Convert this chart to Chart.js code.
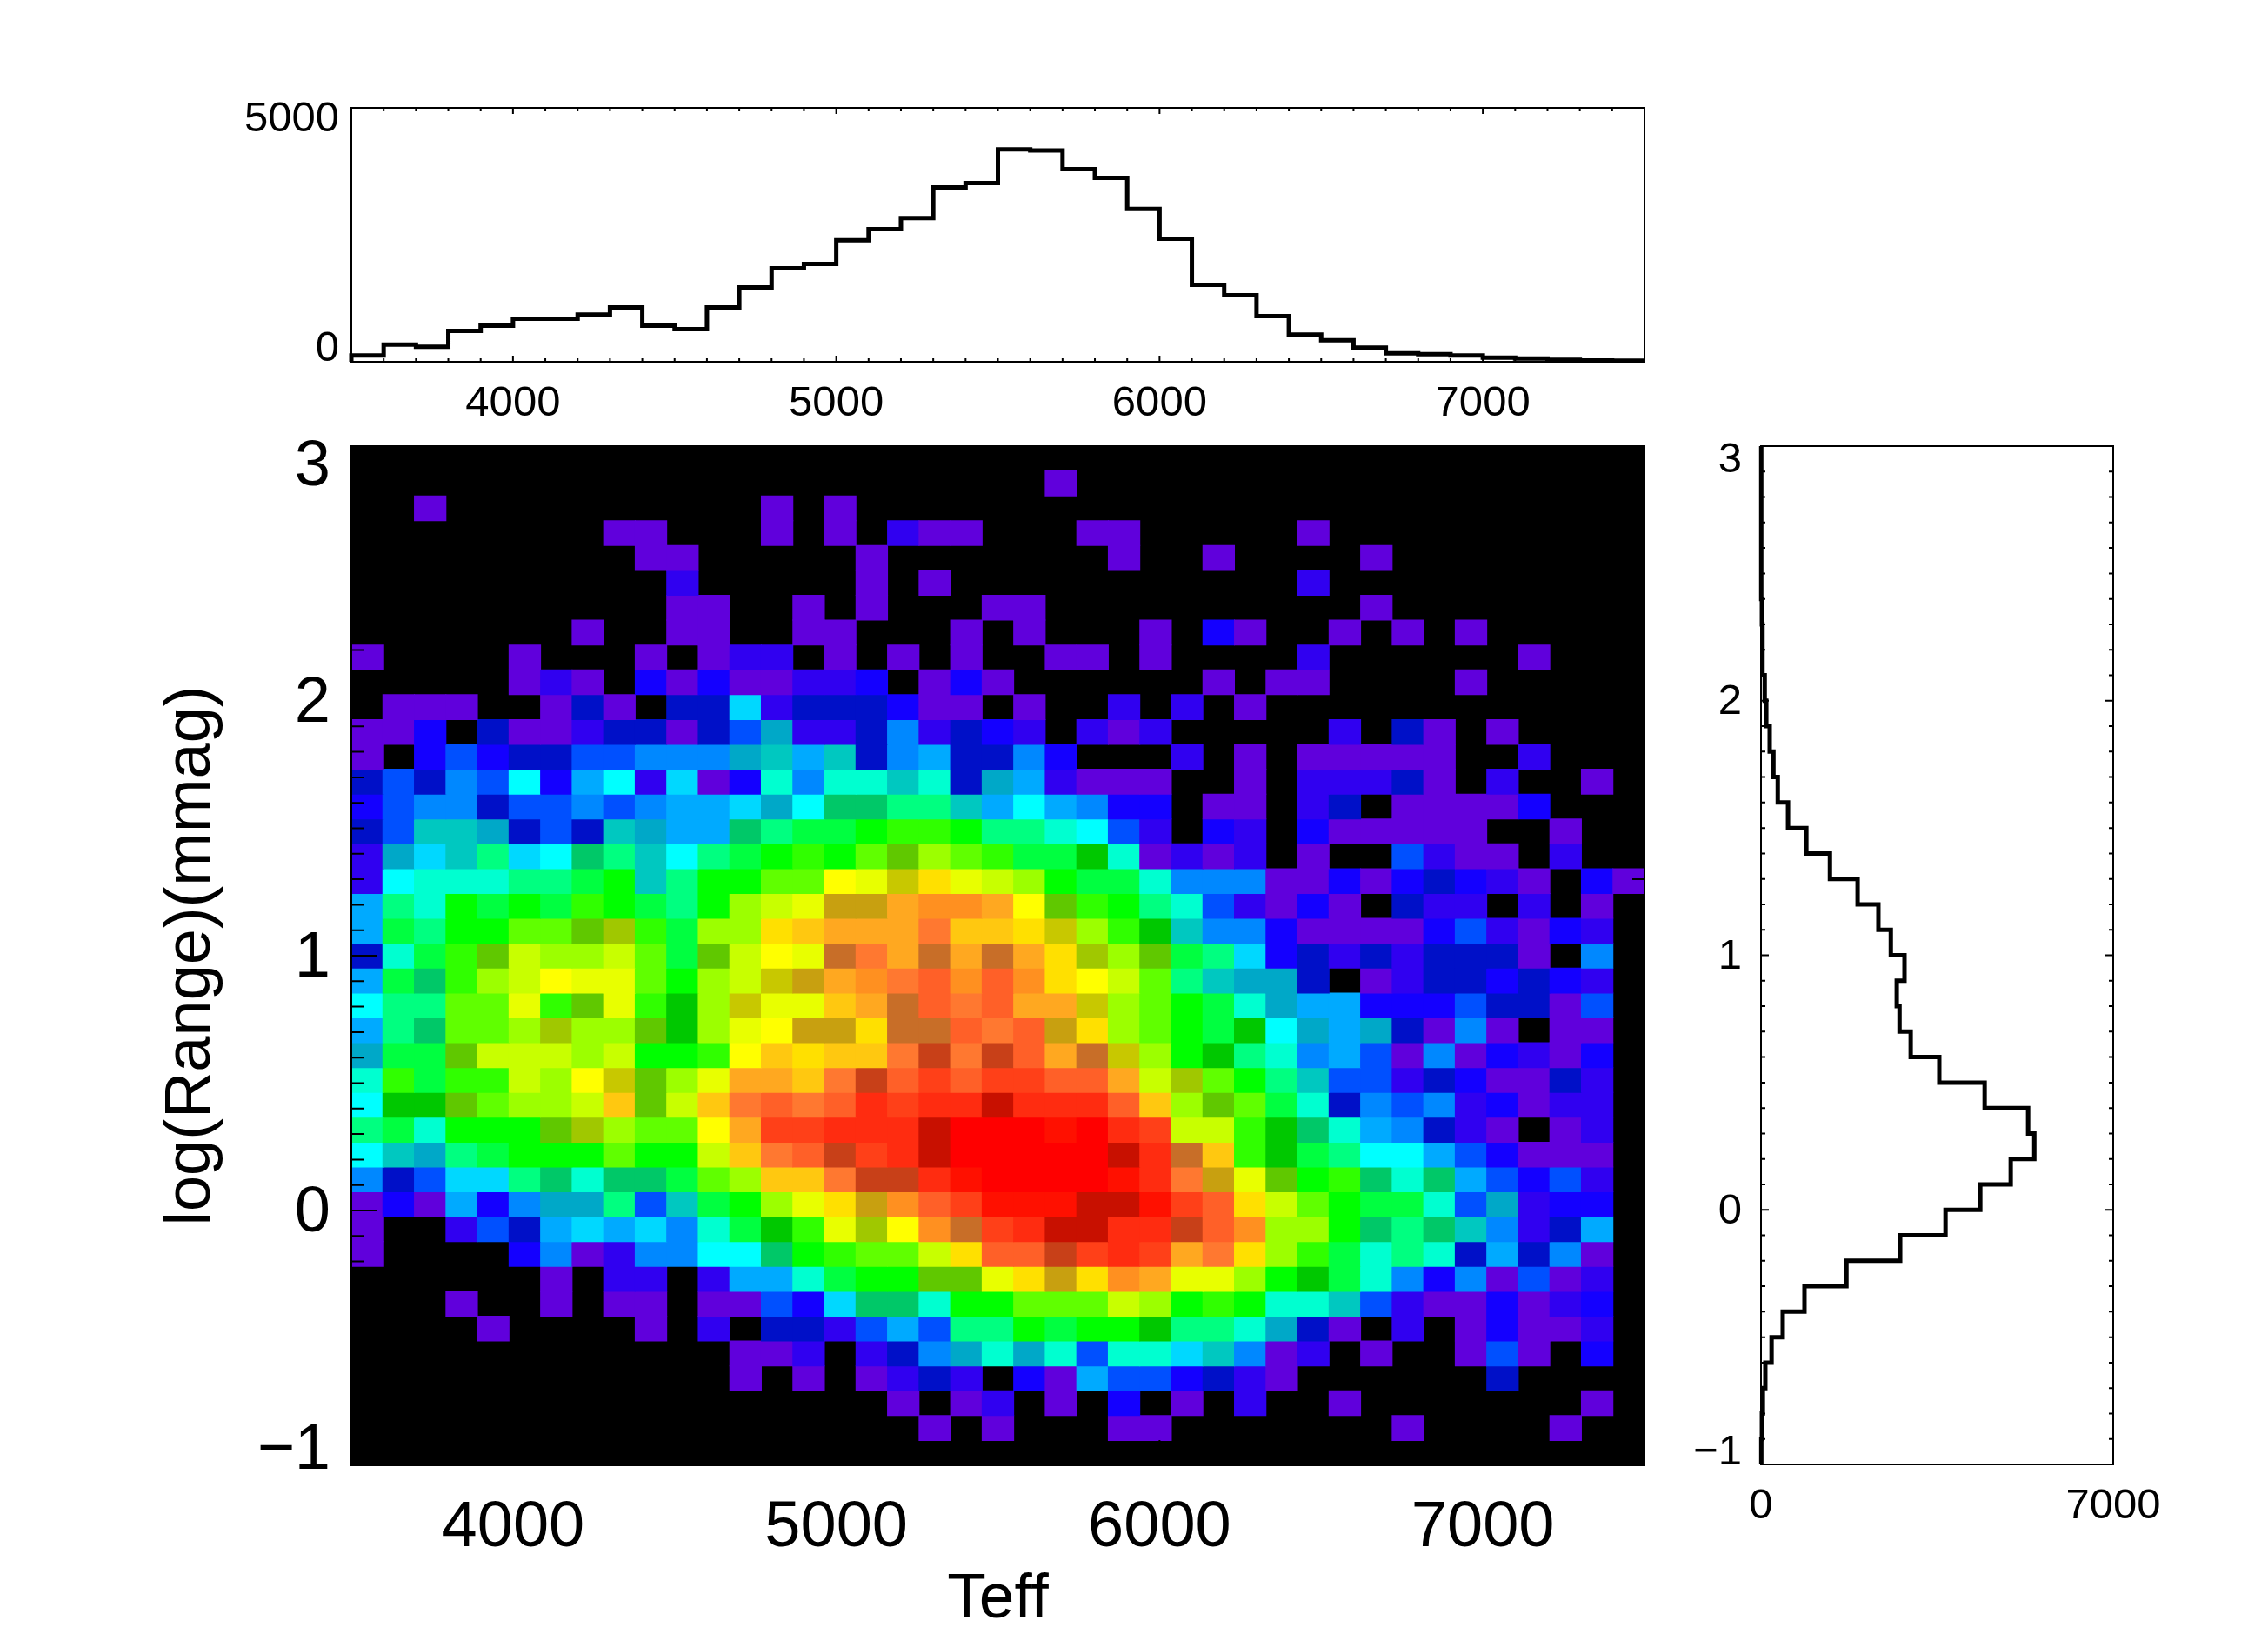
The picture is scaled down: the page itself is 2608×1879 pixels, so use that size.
<!DOCTYPE html>
<html>
<head>
<meta charset="utf-8">
<style>
html,body{margin:0;padding:0;background:#fff;width:2608px;height:1879px;overflow:hidden}
canvas{position:absolute;display:block}
</style>
<script src="https://cdn.jsdelivr.net/npm/chart.js@4"></script>
</head>
<body>
<canvas id="top" width="1960" height="500" style="left:0;top:0"></canvas>
<canvas id="main" width="1960" height="1379" style="left:0;top:500px"></canvas>
<canvas id="side" width="708" height="1379" style="left:1900px;top:500px"></canvas>
<script>
// ---------- data ----------
const teffLabels = [4000, 5000, 6000, 7000];
const teffEdgeStart = 3500, teffEnd = 7500, teffStep = 100;
const rangeLabels = [0, 1, 2];
const rangeStart = -1, rangeEnd = 3;

// top histogram: star counts in 100 K bins from 3500 K
const teffCounts = [126,337,297,606,709,846,846,931,1069,709,640,1069,1463,1840,1926,2394,2611,2829,3434,3520,
  4183,4160,3794,3623,3011,2423,1514,1309,897,537,423,280,166,149,126,80,63,40,25,20];

// side histogram: star counts in 0.1 dex bins, from log(Range)=3 downwards
const rangeCounts = [5,5,5,5,5,5,18,30,30,74,105,173,247,333,537,901,1370,1920,2333,2580,
  2852,2698,2753,2975,3543,4445,5309,5432,4963,4358,3667,2766,1698,864,432,210,86,37,18,6];

// colour-table level of each density cell, 41 rows from top, 41 columns from left
const densityRows = [
[0,0,0,0,0,0,0,0,0,0, 0,0,0,0,0,0,0,0,0,0, 0,0,0,0,0,0,0,0,0,0, 0,0,0,0,0,0,0,0,0,0, 0],
[0,0,0,0,0,0,0,0,0,0, 0,0,0,0,0,0,0,0,0,0, 0,0,1,0,0,0,0,0,0,0, 0,0,0,0,0,0,0,0,0,0, 0],
[0,0,1,0,0,0,0,0,0,0, 0,0,0,1,0,1,0,0,0,0, 0,0,0,0,0,0,0,0,0,0, 0,0,0,0,0,0,0,0,0,0, 0],
[0,0,0,0,0,0,0,0,1,1, 0,0,0,1,0,1,0,2,1,1, 0,0,0,1,1,0,0,0,0,0, 1,0,0,0,0,0,0,0,0,0, 0],
[0,0,0,0,0,0,0,0,0,1, 1,0,0,0,0,0,1,0,0,0, 0,0,0,0,1,0,0,1,0,0, 0,0,1,0,0,0,0,0,0,0, 0],
[0,0,0,0,0,0,0,0,0,0, 2,0,0,0,0,0,1,0,1,0, 0,0,0,0,0,0,0,0,0,0, 2,0,0,0,0,0,0,0,0,0, 0],
[0,0,0,0,0,0,0,0,0,0, 1,1,0,0,1,0,1,0,0,0, 1,1,0,0,0,0,0,0,0,0, 0,0,1,0,0,0,0,0,0,0, 0],
[0,0,0,0,0,0,0,1,0,0, 1,1,0,0,1,1,0,0,0,1, 0,1,0,0,0,1,0,3,1,0, 0,1,0,1,0,1,0,0,0,0, 0],
[1,0,0,0,0,1,0,0,0,1, 0,1,2,2,0,1,0,1,0,1, 0,0,1,1,0,1,0,0,0,0, 2,0,0,0,0,0,0,1,0,0, 0],
[0,0,0,0,0,1,2,1,0,3, 1,3,1,1,2,2,3,0,1,3, 1,0,0,0,0,0,0,1,0,1, 1,0,0,0,0,1,0,0,0,0, 0],
[0,1,1,1,0,0,1,4,1,0, 4,4,9,2,4,4,4,3,1,1, 0,1,0,0,2,0,2,0,1,0, 0,0,0,0,0,0,0,0,0,0, 0],
[1,1,3,0,4,1,1,2,4,4, 1,4,5,8,2,2,4,6,2,4, 3,2,0,2,1,2,0,0,0,0, 0,2,0,4,1,0,1,0,0,0, 0],
[1,0,3,5,3,4,4,5,5,6, 6,6,8,11,7,11,4,6,7,4, 4,6,3,0,0,0,2,0,1,0, 1,1,1,1,1,0,0,2,0,0, 0],
[4,5,4,6,5,10,3,7,10,2, 9,1,3,12,6,12,12,11,12,4, 8,7,2,1,1,1,0,0,1,0, 2,2,2,4,1,0,2,0,0,1, 0],
[3,5,6,6,4,5,5,6,5,6, 7,7,9,8,10,14,14,13,13,11, 7,10,7,6,3,3,0,1,1,0, 2,4,0,1,1,1,1,3,0,0, 0],
[4,5,11,11,8,4,5,4,11,8, 7,7,14,13,15,15,16,18,18,16, 13,13,12,10,5,2,0,3,2,0, 3,1,1,1,1,1,0,0,1,0, 0],
[2,8,9,11,13,9,10,14,13,11, 10,13,15,16,18,16,19,20,21,19, 18,15,15,17,12,1,2,1,2,0, 1,0,0,5,2,1,1,0,2,0, 0],
[2,10,12,12,12,13,13,15,16,11, 13,16,16,19,19,26,24,25,27,24, 23,21,16,15,15,12,6,6,6,1, 1,3,1,3,4,3,2,1,0,3, 1],
[7,13,12,16,15,16,15,18,16,15, 13,16,21,23,24,28,28,30,31,31, 30,26,20,18,16,13,12,5,2,1, 3,1,0,4,2,2,0,2,0,1, 0],
[7,15,13,16,16,19,19,20,22,18, 15,21,21,27,29,30,30,30,33,29, 29,27,25,21,18,17,11,6,6,3, 1,1,1,1,3,5,2,1,3,2, 0],
[4,12,15,18,20,23,21,21,23,19, 15,20,23,26,24,32,33,30,32,30, 32,30,27,22,21,20,15,13,9,3, 4,2,4,2,4,4,4,1,0,6, 0],
[7,15,14,18,21,23,26,24,24,19, 16,21,23,25,28,30,31,33,34,31, 34,31,27,26,23,19,13,11,8,8, 4,0,1,2,4,4,3,4,3,2, 0],
[10,13,13,19,19,24,18,20,24,18, 17,21,25,24,24,29,30,32,34,33, 34,30,30,25,21,19,16,15,12,8, 7,7,3,3,3,5,4,4,1,5, 0],
[7,13,14,19,19,21,22,21,21,20, 17,21,24,26,28,28,27,32,32,34, 33,34,28,27,21,19,16,15,17,10, 8,7,8,4,1,6,1,0,1,1, 0],
[8,15,15,20,23,23,23,21,23,16, 16,18,26,29,27,29,29,33,35,33, 35,34,30,32,25,21,16,17,13,12, 6,7,5,1,6,1,3,2,1,3, 0],
[12,18,15,18,18,23,21,26,25,20, 21,24,30,30,29,33,35,34,36,34, 36,36,34,34,30,23,22,19,16,13, 11,5,5,2,4,3,1,1,4,2, 0],
[10,17,17,20,19,21,21,23,29,20, 23,29,33,34,33,34,37,36,37,37, 38,37,37,37,34,29,21,20,19,15, 12,4,6,5,6,2,3,1,2,2, 0],
[13,15,12,16,16,16,20,22,21,19, 19,26,30,36,36,37,37,37,38,40, 40,40,39,40,37,36,23,23,18,17, 14,12,7,6,4,2,1,0,1,2, 0],
[10,11,8,13,15,16,16,16,19,16, 16,23,29,33,34,35,36,37,38,40, 40,40,40,40,38,37,32,29,18,17, 15,13,10,10,7,5,3,1,1,1, 0],
[6,4,5,9,9,13,14,12,14,14, 15,19,21,29,29,33,35,35,37,39, 40,40,40,40,39,37,33,28,24,20, 16,18,14,12,14,7,5,3,5,2, 0],
[1,3,1,7,3,6,8,8,13,5, 11,15,16,21,24,27,28,31,34,36, 39,39,39,38,38,39,36,34,27,23, 19,16,15,15,12,5,8,2,3,3, 0],
[1,0,0,2,5,4,7,9,7,9, 6,12,15,17,18,24,22,26,31,32, 36,37,38,38,37,37,35,34,31,21, 21,16,14,13,14,11,6,2,4,7, 0],
[1,0,0,0,0,3,6,1,2,6, 6,10,10,14,16,18,19,19,23,27, 34,34,35,36,37,36,30,33,27,21, 18,15,12,13,12,4,7,4,6,1, 0],
[0,0,0,0,0,0,1,0,2,2, 0,2,7,7,12,15,16,16,20,20, 24,27,28,27,31,30,24,24,21,16, 17,15,12,6,3,6,1,5,1,2, 0],
[0,0,0,1,0,0,1,0,1,1, 0,1,1,5,3,9,14,14,12,16, 16,19,19,19,23,21,16,18,16,12, 12,11,5,2,1,1,3,1,2,3, 0],
[0,0,0,0,1,0,0,0,0,1, 0,2,0,4,4,2,5,7,5,13, 13,16,15,16,16,17,13,13,12,8, 4,1,0,2,0,1,3,1,1,2, 0],
[0,0,0,0,0,0,0,0,0,0, 0,0,1,1,2,0,2,4,6,8, 12,8,12,5,12,12,9,11,6,1, 2,0,1,0,0,1,5,1,0,3, 0],
[0,0,0,0,0,0,0,0,0,0, 0,0,1,0,1,0,1,2,4,2, 0,3,1,7,5,5,3,4,2,1, 0,0,0,0,0,0,4,0,0,0, 0],
[0,0,0,0,0,0,0,0,0,0, 0,0,0,0,0,0,0,1,0,1, 2,0,1,0,3,0,1,0,2,0, 0,1,0,0,0,0,0,0,0,1, 0],
[0,0,0,0,0,0,0,0,0,0, 0,0,0,0,0,0,0,0,1,0, 1,0,0,0,1,1,0,0,0,0, 0,0,0,1,0,0,0,0,1,0, 0],
[0,0,0,0,0,0,0,0,0,0, 0,0,0,0,0,0,0,0,0,0, 0,0,0,0,0,0,0,0,0,0, 0,0,0,0,0,0,0,0,0,0, 0]
];

// ---------- styles ----------
const levelColors = ['#000000','#6000dc','#3000f0','#1400ff','#0010c8','#0050ff','#0088ff','#00aaff','#00a8c8','#00d8ff',
 '#00ffff','#00c8c0','#00ffd0','#00ff80','#00c868','#00ff40','#00ff00','#00c800','#30ff00','#60ff00',
 '#60c800','#9cff00','#a0c800','#c8ff00','#e8ff00','#c8c800','#ffff00','#ffe000','#c8a010','#ffc810',
 '#ffa820','#ff9020','#c86e28','#ff7830','#ff6028','#c84018','#ff4018','#ff2c10','#c81000','#ff1000','#ff0000'];
const FONT = '"Liberation Sans", Arial, sans-serif';

Chart.defaults.animation = false;
Chart.defaults.responsive = false;
Chart.defaults.devicePixelRatio = 1;
Chart.defaults.events = [];
Chart.defaults.color = '#000';
Chart.defaults.font.family = FONT;

// tick positions on the axes
const teffTicks = [];
for (let t = teffEdgeStart; t <= teffEnd; t += teffStep) teffTicks.push(t);
const rangeTicks = [];
for (let i = 0; i <= 40; i++) rangeTicks.push(Math.round((rangeStart + i * 0.1) * 10) / 10);

function lockAxis(size) {
  return function (scale) {
    if (scale.isHorizontal()) scale.height = size; else scale.width = size;
    scale.paddingTop = scale.paddingBottom = scale.paddingLeft = scale.paddingRight = 0;
  };
}
function setTicks(values) {
  return function (scale) { scale.ticks = values.map(v => ({ value: v })); };
}

// frame and tick marks of every panel, placed through the chart's scales
function marks(cfg) {
  return {
    id: 'marks',
    beforeDatasetsDraw(chart) {
      if (!cfg.background) return;
      const a = chart.chartArea, c = chart.ctx;
      c.save(); c.fillStyle = cfg.background; c.fillRect(a.left, a.top, a.right - a.left, a.bottom - a.top); c.restore();
    },
    afterDatasetsDraw(chart) {
      const a = chart.chartArea, c = chart.ctx, xs = chart.scales.x, ys = chart.scales.y;
      c.save();
      c.strokeStyle = '#000'; c.lineWidth = cfg.lineWidth;
      c.strokeRect(a.left, a.top, a.right - a.left, a.bottom - a.top);
      c.beginPath();
      (cfg.xTicks || []).forEach(v => {
        const p = xs.getPixelForValue(v), l = cfg.xMajor.includes(v) ? cfg.majorLen : cfg.minorLen;
        c.moveTo(p, a.bottom); c.lineTo(p, a.bottom - l);
        c.moveTo(p, a.top); c.lineTo(p, a.top + l);
      });
      (cfg.yTicks || []).forEach(v => {
        const p = ys.getPixelForValue(v), l = cfg.yMajor.includes(v) ? cfg.majorLen : cfg.minorLen;
        c.moveTo(a.left, p); c.lineTo(a.left + l, p);
        c.moveTo(a.right, p); c.lineTo(a.right - l, p);
      });
      c.stroke();
      c.restore();
    }
  };
}

// ---------- top histogram ----------
const topPoints = [{ x: teffEdgeStart, y: 0 }];
teffCounts.forEach((v, i) => topPoints.push({ x: teffEdgeStart + i * teffStep, y: v }));
topPoints.push({ x: teffEnd, y: teffCounts[teffCounts.length - 1] });
const topYLabels = new Map([[304, '0'], [4823, '5000']]);

new Chart(document.getElementById('top'), {
  type: 'scatter',
  data: { datasets: [{ data: topPoints, showLine: true, stepped: true, borderColor: '#000', borderWidth: 5,
    pointRadius: 0, clip: false, fill: false, tension: 0 }] },
  options: {
    layout: { padding: { top: 124, right: 69, left: 0, bottom: 0 } },
    plugins: { legend: { display: false }, tooltip: { enabled: false } },
    scales: {
      x: { type: 'linear', min: teffEdgeStart, max: teffEnd, grid: { display: false }, border: { display: false },
        afterBuildTicks: setTicks(teffTicks), afterFit: lockAxis(84),
        ticks: { autoSkip: false, maxRotation: 0, padding: 11, font: { size: 49 },
          callback: v => teffLabels.includes(v) ? String(v) : '' } },
      y: { type: 'linear', min: 0, max: 5000, grid: { display: false }, border: { display: false },
        afterBuildTicks: setTicks([...topYLabels.keys()]), afterFit: lockAxis(404),
        ticks: { padding: 6, labelOffset: 3, font: { size: 49 }, callback: v => topYLabels.get(v) } }
    }
  },
  plugins: [marks({ lineWidth: 2, xTicks: teffTicks, xMajor: teffLabels, majorLen: 7, minorLen: 4 })]
});

// ---------- density map ----------
const nCols = densityRows[0].length, nRows = densityRows.length;
const cellW = (teffEnd - teffEdgeStart) / nCols, cellH = (rangeEnd - rangeStart) / nRows;
const densityDatasets = densityRows.map((row, r) => {
  const hi = rangeEnd - r * cellH, lo = hi - cellH, data = [], colors = [];
  row.forEach((lvl, c) => {
    if (lvl > 0) { data.push({ x: teffEdgeStart + (c + 0.5) * cellW, y: [lo, hi] }); colors.push(levelColors[lvl]); }
  });
  return { data, backgroundColor: colors, grouped: false, barPercentage: 1, categoryPercentage: 1,
    borderWidth: 0, inflateAmount: 0.5 };
}).filter(d => d.data.length);
const mainYLabels = new Map([[-0.93, '\u22121'], [0, '0'], [1, '1'], [2, '2'], [2.93, '3']]);

new Chart(document.getElementById('main'), {
  type: 'bar',
  data: { datasets: densityDatasets },
  options: {
    layout: { padding: { top: 13, right: 69, left: 0, bottom: 0 } },
    plugins: { legend: { display: false }, tooltip: { enabled: false } },
    scales: {
      x: { type: 'linear', min: teffEdgeStart, max: teffEnd, offset: false, grid: { display: false }, border: { display: false },
        afterBuildTicks: setTicks(teffTicks), afterFit: lockAxis(194),
        title: { display: true, text: 'Teff', font: { size: 73, lineHeight: 1 }, padding: { top: 0, bottom: 3 } },
        ticks: { autoSkip: false, maxRotation: 0, padding: 20, font: { size: 74 },
          callback: v => teffLabels.includes(v) ? String(v) : '' } },
      y: { type: 'linear', min: rangeStart, max: rangeEnd, grid: { display: false }, border: { display: false },
        afterBuildTicks: setTicks([...mainYLabels.keys()]), afterFit: lockAxis(404),
        title: { display: true, text: 'log(Range)(mmag)', font: { size: 74, lineHeight: 1 }, padding: { top: 184, bottom: 0 } },
        ticks: { padding: 16, labelOffset: 4, font: { size: 74 }, callback: v => mainYLabels.get(v) } }
    }
  },
  plugins: [marks({ background: '#000', lineWidth: 2, xTicks: teffTicks, xMajor: teffLabels,
    yTicks: rangeTicks, yMajor: rangeLabels, majorLen: 29, minorLen: 14 })]
});

// ---------- side histogram ----------
const sidePoints = rangeCounts.map((v, i) => ({ x: v, y: Math.round((rangeEnd - i * 0.1) * 10) / 10 }));
sidePoints.push({ x: rangeCounts[rangeCounts.length - 1], y: rangeStart });
const sideYLabels = new Map([[-0.947, '\u22121'], [0, '0'], [1, '1'], [2, '2'], [2.95, '3']]);

new Chart(document.getElementById('side'), {
  type: 'scatter',
  data: { datasets: [{ data: sidePoints, showLine: true, stepped: 'after', borderColor: '#000', borderWidth: 5,
    pointRadius: 0, clip: false, fill: false, tension: 0 }] },
  options: {
    layout: { padding: { top: 13, right: 178, left: 0, bottom: 0 } },
    plugins: { legend: { display: false }, tooltip: { enabled: false } },
    scales: {
      x: { type: 'linear', min: 0, max: 7000, grid: { display: false }, border: { display: false },
        afterBuildTicks: setTicks([0, 7000]), afterFit: lockAxis(195),
        ticks: { autoSkip: false, maxRotation: 0, padding: 11, font: { size: 49 }, callback: v => String(v) } },
      y: { type: 'linear', min: rangeStart, max: rangeEnd, grid: { display: false }, border: { display: false },
        afterBuildTicks: setTicks([...sideYLabels.keys()]), afterFit: lockAxis(125),
        ticks: { padding: 14, labelOffset: 2, font: { size: 49 }, callback: v => sideYLabels.get(v) } }
    }
  },
  plugins: [marks({ lineWidth: 2, yTicks: rangeTicks, yMajor: rangeLabels, majorLen: 9, minorLen: 5 })]
});
</script>
</body>
</html>
